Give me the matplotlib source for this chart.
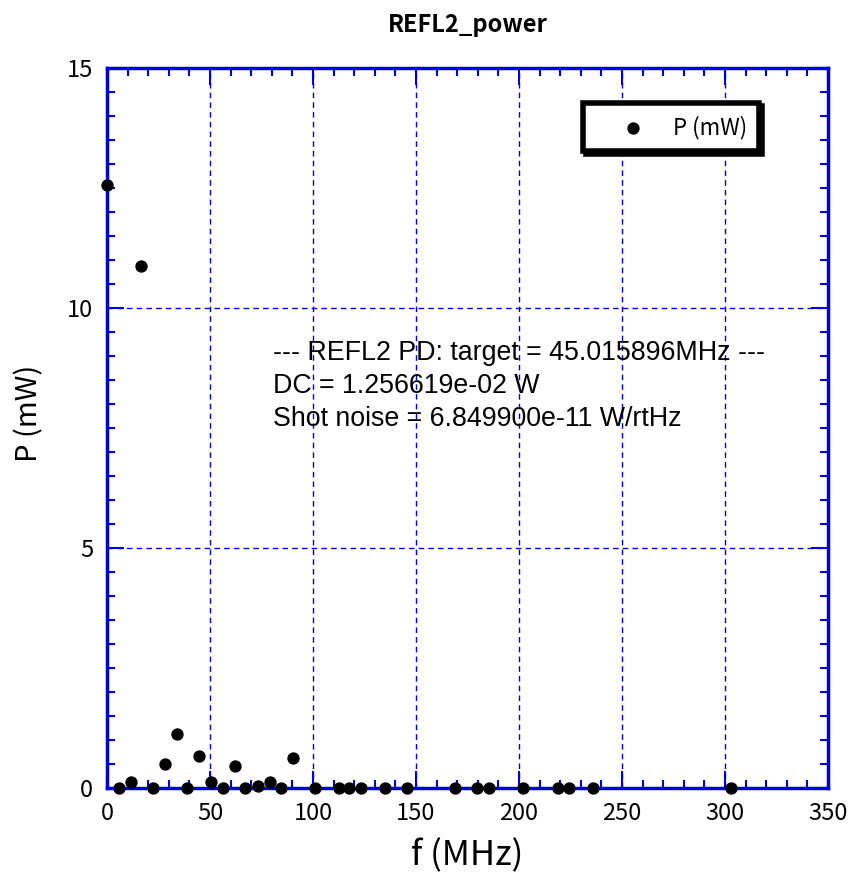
#!/usr/bin/env python3
"""REFL2 PD power spectrum: power per frequency component."""

import matplotlib
matplotlib.use("Agg")
import matplotlib.pyplot as plt
from matplotlib.ticker import MultipleLocator

# Frequency of each component (MHz) and its power (mW)
FREQ_MHZ = [0, 5.9, 11.8, 16.5, 22.5, 28.3, 34.1, 39.0, 44.8, 50.6, 56.5,
            62.3, 67.1, 73.1, 79.0, 84.6, 90.4, 101.0, 112.7, 117.6, 123.4,
            135.1, 145.6, 168.8, 179.8, 185.4, 202.0, 219.1, 224.5, 236.1,
            302.8]
POWER_MW = [12.57, 0, 0.13, 10.87, 0, 0.5, 1.13, 0, 0.67, 0.13, 0,
            0.45, 0, 0.035, 0.13, 0, 0.625, 0, 0, 0, 0,
            0, 0, 0, 0, 0, 0, 0, 0, 0,
            0]

TITLE = "REFL2_power"
XLABEL = "f (MHz)"
YLABEL = "P (mW)"
SERIES_LABEL = "P (mW)"
INFO_LINES = [
    "--- REFL2 PD: target = 45.015896MHz ---",
    "DC = 1.256619e-02 W",
    "Shot noise = 6.849900e-11 W/rtHz",
]

GOTHIC = ["Noto Sans CJK JP", "DejaVu Sans"]
BLUE = "#0000dd"


def main():
    fig = plt.figure(figsize=(8.49, 8.90), dpi=100)
    ax = fig.add_axes([0.126, 0.1146, 0.8493, 0.809])

    ax.scatter(FREQ_MHZ, POWER_MW, s=62, color="black", zorder=5,
               clip_on=False, label=SERIES_LABEL)

    ax.set_xlim(0, 350)
    ax.set_ylim(0, 15)
    ax.xaxis.set_major_locator(MultipleLocator(50))
    ax.xaxis.set_minor_locator(MultipleLocator(10))
    ax.yaxis.set_major_locator(MultipleLocator(5))
    ax.yaxis.set_minor_locator(MultipleLocator(0.5))

    ax.grid(True, which="major", color=BLUE, linestyle=(0, (4, 3)), linewidth=1)
    for side in ax.spines.values():
        side.set_color(BLUE)
        side.set_linewidth(2.5)
    ax.tick_params(which="both", direction="in", top=True, right=True,
                   color=BLUE, width=1.5, labelsize=17, pad=10)
    ax.tick_params(which="major", length=12)
    ax.tick_params(which="minor", length=6)
    for lab in ax.get_xticklabels() + ax.get_yticklabels():
        lab.set_family(GOTHIC)

    ax.set_title(TITLE, family=GOTHIC, fontsize=17, fontweight="bold", pad=26)
    ax.set_xlabel(XLABEL, family=GOTHIC, fontsize=25, labelpad=10)
    ax.set_ylabel(YLABEL, family=GOTHIC, fontsize=21, labelpad=16, y=0.52)

    ax.text(80.6, 9.34, "\n".join(INFO_LINES), family="Liberation Sans",
            fontsize=19.3, va="top", ha="left", linespacing=1.37)

    leg = ax.legend(loc="upper left", bbox_to_anchor=(0.66, 0.951),
                    frameon=True, fancybox=False, framealpha=1,
                    edgecolor="black", shadow={"color": "black", "alpha": 1},
                    prop={"family": GOTHIC, "size": 16}, borderpad=0.55,
                    handlelength=3.4, handletextpad=0.1, borderaxespad=0,
                    scatterpoints=1)
    leg.get_frame().set_linewidth(4)

    fig.savefig("out.png", dpi=100)
    plt.close(fig)


if __name__ == "__main__":
    main()
